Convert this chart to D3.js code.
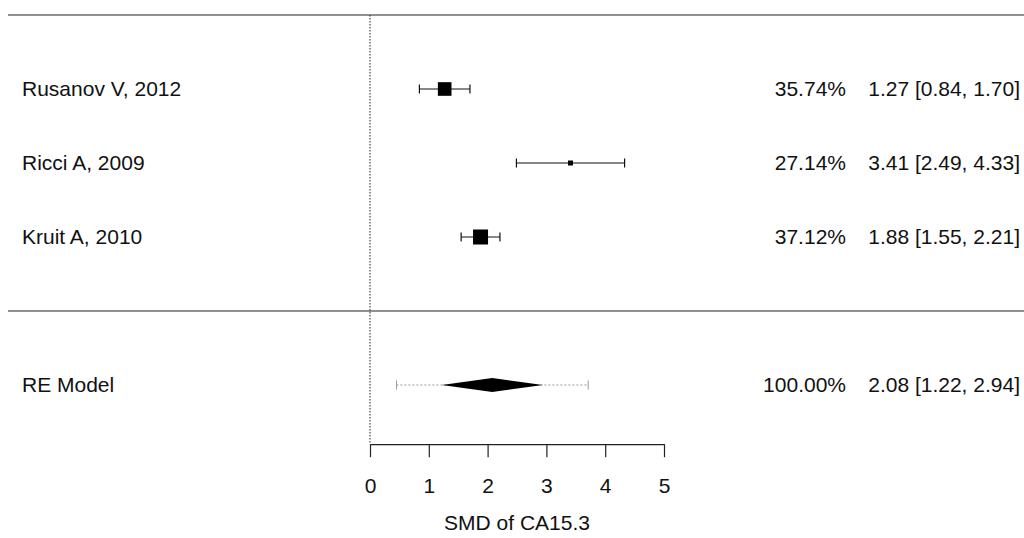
<!DOCTYPE html>
<meta charset="utf-8">
<title>Forest plot - SMD of CA15.3</title>
<style>
  body { margin: 0; background: #fff; }
  svg { font-family: "Liberation Sans", Arial, sans-serif; font-size: 21px; fill: #111; }
  .ci, .cap { stroke: #111; stroke-width: 1.2; }
  .pi { stroke: #999; stroke-width: 1; stroke-dasharray: 2,2; }
  .picap { stroke: #999; stroke-width: 1; }
  .rule { stroke: #222; stroke-width: 1.2; }
  .ref { stroke: #222; stroke-width: 1; stroke-dasharray: 1.5,1.5; }
  .axis path, .axis line { stroke: #222; stroke-width: 1.2; }
  .axis text { font-size: 21px; fill: #111; font-family: "Liberation Sans", Arial, sans-serif; }
</style>
<body>
<script src="https://cdn.jsdelivr.net/npm/d3@7"></script>
<script>
  // study-level data
  var studies = ["Rusanov V, 2012", "Ricci A, 2009", "Kruit A, 2010"];
  var est = [1.27, 3.41, 1.88];
  var lower = [0.84, 2.49, 1.55];
  var upper = [1.70, 4.33, 2.21];
  var weights = [35.74, 27.14, 37.12];

  // random-effects summary
  var modelLabel = "RE Model";
  var modelEst = 2.08, modelLo = 1.22, modelHi = 2.94;
  var predLo = 0.45, predHi = 3.71;
  var modelWeight = 100.00;

  var xTicks = [0, 1, 2, 3, 4, 5];
  var xTitle = "SMD of CA15.3";

  var width = 1024, height = 538;

  var svg = d3.select("body").append("svg")
      .attr("width", width)
      .attr("height", height);

  var x = d3.scaleLinear().domain([0, 5]).range([370, 664]);
  // rows: 3,2,1 for studies, 0 = separator, -1 = model, 4 = top rule
  var y = d3.scaleLinear().domain([3, 1]).range([89, 237]);
  var size = d3.scaleLinear().domain(d3.extent(weights)).range([5, 15]);

  var fmt = d3.format(".2f");

  // horizontal rules
  svg.selectAll("line.rule")
      .data([4, 0])
      .enter().append("line")
      .attr("class", "rule")
      .attr("x1", 8).attr("x2", width)
      .attr("y1", function(d) { return y(d); })
      .attr("y2", function(d) { return y(d); });

  var axisY = y(-1.8);

  // reference line at 0
  svg.append("line")
      .attr("class", "ref")
      .attr("x1", x(0)).attr("x2", x(0))
      .attr("y1", y(4)).attr("y2", axisY);

  var rows = studies.map(function(s, i) {
    return { name: s, est: est[i], lo: lower[i], hi: upper[i], w: weights[i], row: 3 - i };
  });

  var g = svg.selectAll("g.study")
      .data(rows)
      .enter().append("g")
      .attr("class", "study");

  g.append("line")
      .attr("class", "ci")
      .attr("x1", function(d) { return x(d.lo); })
      .attr("x2", function(d) { return x(d.hi); })
      .attr("y1", function(d) { return y(d.row); })
      .attr("y2", function(d) { return y(d.row); });

  ["lo", "hi"].forEach(function(k) {
    g.append("line")
        .attr("class", "cap")
        .attr("x1", function(d) { return x(d[k]); })
        .attr("x2", function(d) { return x(d[k]); })
        .attr("y1", function(d) { return y(d.row) - 4.5; })
        .attr("y2", function(d) { return y(d.row) + 4.5; });
  });

  g.append("rect")
      .attr("x", function(d) { return x(d.est) - size(d.w) / 2; })
      .attr("y", function(d) { return y(d.row) - size(d.w) / 2; })
      .attr("width", function(d) { return size(d.w); })
      .attr("height", function(d) { return size(d.w); })
      .attr("fill", "#000");

  g.append("text")
      .attr("x", 22)
      .attr("y", function(d) { return y(d.row); })
      .attr("dy", "0.35em")
      .text(function(d) { return d.name; });

  g.append("text")
      .attr("x", 846)
      .attr("y", function(d) { return y(d.row); })
      .attr("dy", "0.35em")
      .attr("text-anchor", "end")
      .text(function(d) { return fmt(d.w) + "%"; });

  g.append("text")
      .attr("x", 1020)
      .attr("y", function(d) { return y(d.row); })
      .attr("dy", "0.35em")
      .attr("text-anchor", "end")
      .text(function(d) { return fmt(d.est) + " [" + fmt(d.lo) + ", " + fmt(d.hi) + "]"; });

  // summary row
  var my = y(-1);
  svg.append("line")
      .attr("class", "pi")
      .attr("x1", x(predLo)).attr("x2", x(predHi))
      .attr("y1", my).attr("y2", my);
  [predLo, predHi].forEach(function(v) {
    svg.append("line")
        .attr("class", "picap")
        .attr("x1", x(v)).attr("x2", x(v))
        .attr("y1", my - 4.5).attr("y2", my + 4.5);
  });
  svg.append("polygon")
      .attr("points", [
        [x(modelLo), my], [x(modelEst), my - 7], [x(modelHi), my], [x(modelEst), my + 7]
      ].map(function(p) { return p.join(","); }).join(" "))
      .attr("fill", "#000");

  svg.append("text").attr("x", 22).attr("y", my).attr("dy", "0.35em").text(modelLabel);
  svg.append("text").attr("x", 846).attr("y", my).attr("dy", "0.35em")
      .attr("text-anchor", "end").text(fmt(modelWeight) + "%");
  svg.append("text").attr("x", 1020).attr("y", my).attr("dy", "0.35em")
      .attr("text-anchor", "end")
      .text(fmt(modelEst) + " [" + fmt(modelLo) + ", " + fmt(modelHi) + "]");

  // x axis
  svg.append("g")
      .attr("class", "axis")
      .attr("transform", "translate(0," + axisY + ")")
      .call(d3.axisBottom(x).tickValues(xTicks).tickFormat(d3.format("d"))
          .tickSize(13).tickSizeOuter(0).tickPadding(21));

  svg.append("text")
      .attr("x", (x(0) + x(5)) / 2)
      .attr("y", 530)
      .attr("text-anchor", "middle")
      .text(xTitle);
</script>
</body>
